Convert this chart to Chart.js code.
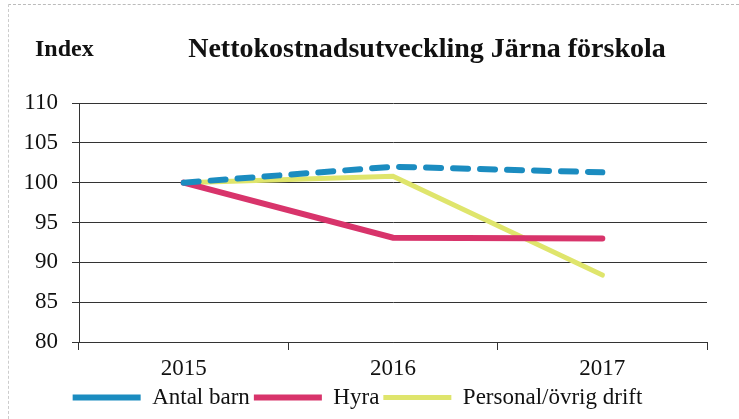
<!DOCTYPE html>
<html>
<head>
<meta charset="utf-8">
<script src="https://cdn.jsdelivr.net/npm/chart.js@4/dist/chart.umd.min.js"></script>
<style>
    html, body { margin: 0; padding: 0; background: #fff; }
    #wrap { position: relative; width: 739px; height: 419px; }
    #wrap:before { content: ''; position: absolute; left: 8px; top: 4px; right: 0; bottom: 0;
        border-top: 1px dashed #bbb; border-left: 1px dashed #ccc; pointer-events: none; }
</style>
</head>
<body>
<div id="wrap"><canvas id="chart" width="739" height="419"></canvas></div>
<script>
/*
==================================
    Data
==================================
*/
var years = ['2015', '2016', '2017'];
var antalBarn = [100, 102.0, 101.3];
var hyra = [100, 93.1, 93.0];
var personal = [100, 100.8, 88.4];
var yTicks = [80, 85, 90, 95, 100, 105, 110];

var serif = "'Liberation Serif', 'Times New Roman', serif";

/*
==================================
    Header text plugin
==================================
*/
var headerText = {
    id: 'headerText',
    afterDraw: function(chart) {
        var ctx = chart.ctx;
        ctx.save();
        ctx.fillStyle = '#111';
        ctx.textBaseline = 'middle';
        ctx.textAlign = 'left';
        ctx.font = 'bold 24px ' + serif;
        ctx.fillText('Index', 35, 50);
        ctx.textAlign = 'center';
        ctx.font = 'bold 28px ' + serif;
        ctx.fillText('Nettokostnadsutveckling Järna förskola', 427, 50);
        ctx.restore();
    }
};

var ctx = document.getElementById('chart');
var chart = new Chart(ctx, {
    type: 'line',
    data: {
        labels: years,
        datasets: [{
            label: 'Antal barn',
            data: antalBarn,
            borderColor: '#1b8cc0',
            backgroundColor: '#1b8cc0',
            borderWidth: 6,
            borderDash: [15, 12],
            borderCapStyle: 'round'
        }, {
            label: 'Hyra',
            data: hyra,
            borderColor: '#d8346b',
            backgroundColor: '#d8346b',
            borderWidth: 6,
            borderCapStyle: 'round'
        }, {
            label: 'Personal/övrig drift',
            data: personal,
            borderColor: '#dfe56c',
            backgroundColor: '#dfe56c',
            borderWidth: 5,
            borderCapStyle: 'round'
        }]
    },
    options: {
        responsive: false,
        animation: false,
        layout: { padding: { left: 8, right: 32, top: 103, bottom: 0 } },
        elements: {
            point: { radius: 0 },
            line: { tension: 0 }
        },
        scales: {
            x: {
                offset: true,
                afterFit: function(scale) { scale.height = 40; },
                grid: { offset: true, drawOnChartArea: false, color: '#333', tickLength: 8 },
                border: { color: '#333', width: 1 },
                ticks: { color: '#111', font: { family: serif, size: 23 }, padding: 5 }
            },
            y: {
                min: 80,
                max: 110,
                afterBuildTicks: function(scale) {
                    scale.ticks = yTicks.map(function(v) { return { value: v }; });
                },
                afterFit: function(scale) { scale.width = 71; },
                grid: { color: '#333', tickLength: 7 },
                border: { color: '#333', width: 1 },
                ticks: { color: '#111', font: { family: serif, size: 23 }, padding: 14 }
            }
        },
        plugins: {
            legend: {
                position: 'bottom',
                labels: {
                    boxWidth: 68,
                    boxHeight: 0,
                    color: '#111',
                    padding: 4,
                    font: { family: serif, size: 23 }
                }
            },
            tooltip: { enabled: false }
        }
    },
    plugins: [headerText]
});
</script>
</body>
</html>
